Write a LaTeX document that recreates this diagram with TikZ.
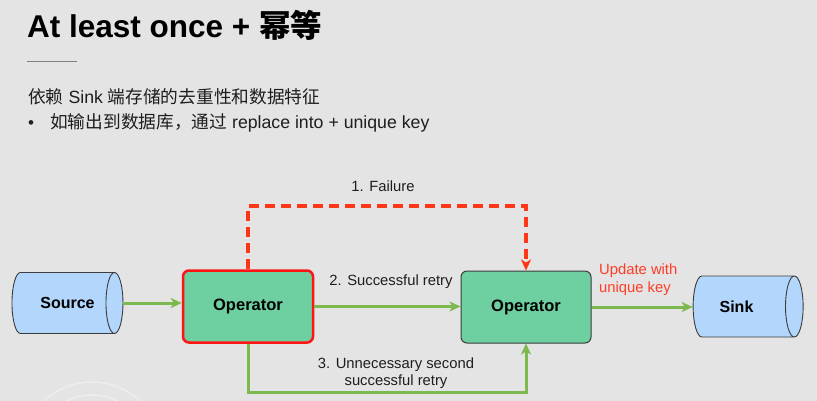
\documentclass[tikz,border=0pt]{standalone}
\usepackage{fontspec}
\setmainfont{Liberation Sans}
\newfontfamily\cjk{Noto Sans CJK SC}
\usetikzlibrary{shapes.geometric,arrows.meta}
\definecolor{bg}{RGB}{227,228,227}
\definecolor{opfill}{RGB}{110,207,160}
\definecolor{cylfill}{RGB}{178,214,252}
\definecolor{grn}{RGB}{125,185,78}
\definecolor{redb}{RGB}{255,20,20}
\definecolor{redd}{RGB}{255,55,25}
\definecolor{redt}{RGB}{255,60,40}
\definecolor{edge}{RGB}{60,60,60}
\definecolor{txt}{RGB}{30,30,30}
\tikzset{
  opbox/.style={draw=edge, line width=1pt, fill=opfill, rounded corners=6pt,
    minimum width=130pt, minimum height=72pt, inner sep=0pt,
    font=\fontsize{16.5}{18}\selectfont\bfseries, text=black},
  failbox/.style={opbox, draw=redb, line width=2.5pt},
  store/.style={cylinder, draw=edge, line width=0.9pt, cylinder uses custom fill,
    cylinder body fill=cylfill, cylinder end fill=cylfill, aspect=1.5,
    inner sep=0pt, font=\fontsize{16}{18}\selectfont\bfseries, text=black},
  flow/.style={draw=grn, line width=3pt, -{Stealth[length=11pt,width=10pt,inset=3pt]}},
  failflow/.style={draw=redd, line width=3.2pt, dash pattern=on 10pt off 6pt,
    -{Stealth[length=11pt,width=10pt,inset=3pt]}},
  lbl/.style={font=\fontsize{14.8}{17.5}\selectfont, text=txt, inner sep=0pt},
}
\begin{document}
\begin{tikzpicture}[x=1pt,y=-1pt]
\fill[bg] (0,0) rectangle (817,401);
\useasboundingbox (0,0) rectangle (817,401);
% faint watermark arcs
\draw[white, opacity=0.35, line width=1.5pt] (92,452) circle (70);
\draw[white, opacity=0.35, line width=1.5pt] (92,452) circle (57);
% header
\node[anchor=base west, inner sep=0pt, text=black] (title) at (27,38)
  {\fontsize{31.5}{34}\selectfont\bfseries At least once + {\cjk 幂等}};
\draw[gray, line width=0.8pt] (27,61) -- (77,61);
\node[anchor=base west, inner sep=0pt, text=txt] (line1) at (28,104)
  {\fontsize{17.7}{20}\selectfont{\cjk 依赖} Sink {\cjk 端存储的去重性和数据特征}};
\node[anchor=base west, inner sep=0pt, text=txt] (bullet) at (28,129)
  {\fontsize{17}{20}\selectfont •};
\node[anchor=base west, inner sep=0pt, text=txt] (line2) at (50,129)
  {\fontsize{17.7}{20}\selectfont{\cjk 如输出到数据库，通过} replace into + unique key};
% nodes
\node[store, minimum height=111pt, minimum width=61pt] (src) at (63,303) {\makebox[0pt]{\hspace{9pt}Source}};
\node[failbox] (op1) at (248,306.5) {Operator};
\node[opbox] (op2) at (526,307) {Operator};
\node[store, minimum height=110pt, minimum width=61pt] (sink) at (743.5,306.5) {\makebox[0pt]{Sink\hspace{14pt}}};
\coordinate (ftop) at (388,206);
\coordinate (ubot) at (388,392);
% connectors
\draw[flow] (src.east) -- (src.east -| op1.west);
\draw[flow] (op1.east) -- (op1.east -| op2.west);
\draw[flow] (op2.east) -- (op2.east -| sink.west);
\draw[failflow] (op1.north) |- (ftop) -| (op2.north);
\draw[flow] (op1.south) |- (ubot) -| (op2.south);
% labels
\node[lbl] (l1) at (383,186) {1. Failure};
\node[lbl] (l2) at (391,282) {2. Successful retry};
\node[lbl, align=center] (l3) at (396,373) {3. Unnecessary second\\successful retry};
\node[lbl, anchor=north west, align=left, text=redt] (l4) at (599,264) {Update with\\unique key};
\end{tikzpicture}
\end{document}
